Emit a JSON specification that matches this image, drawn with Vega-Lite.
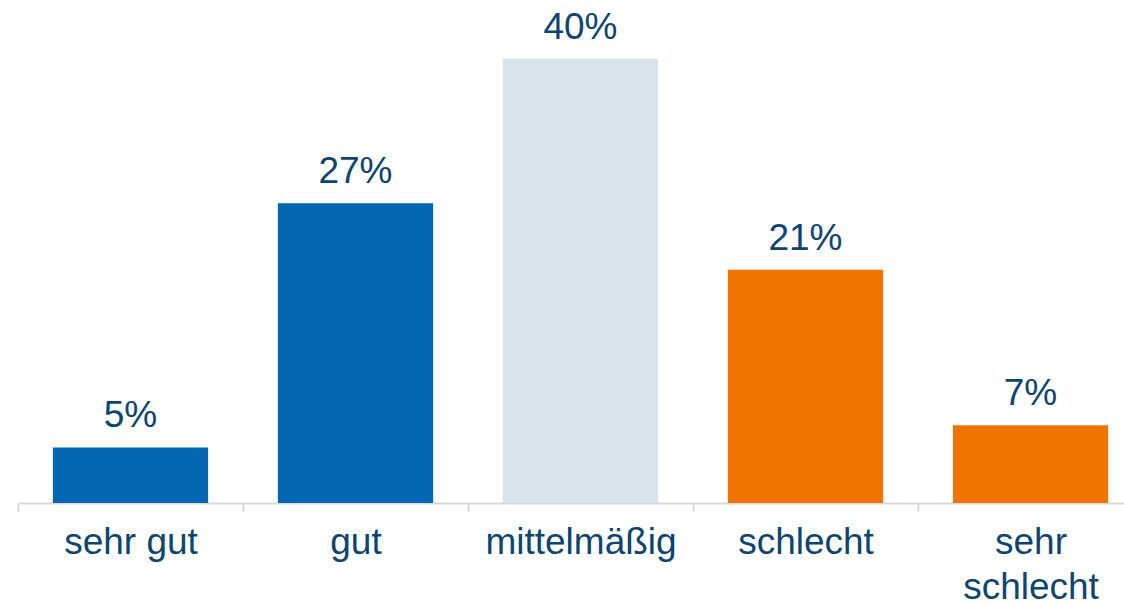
{
  "$schema": "https://vega.github.io/schema/vega-lite/v6.json",
  "width": 1106,
  "height": 503,
  "autosize": "none",
  "padding": {"left": 18, "top": 0, "right": 0, "bottom": 101},
  "background": "white",
  "config": {"view": {"stroke": null}, "font": "Liberation Sans"},
  "data": {"values": [
    {"kat": "sehr gut", "wert": 0.05, "gruppe": "positiv"},
    {"kat": "gut", "wert": 0.27, "gruppe": "positiv"},
    {"kat": "mittelmäßig", "wert": 0.40, "gruppe": "neutral"},
    {"kat": "schlecht", "wert": 0.21, "gruppe": "negativ"},
    {"kat": "sehr schlecht", "wert": 0.07, "gruppe": "negativ"}
  ]},
  "encoding": {
    "x": {
      "field": "kat", "type": "nominal", "sort": null, "title": null,
      "scale": {"range": [0, 1125], "paddingInner": 0.31, "paddingOuter": 0.155},
      "axis": {
        "domainColor": "#d9d9d9", "domainWidth": 2,
        "tickColor": "#d9d9d9", "tickWidth": 2, "tickSize": 8, "tickOffset": -112.5,
        "labelOffset": 112.5,
        "labelAngle": 0, "labelFontSize": 37, "labelColor": "#0e4470",
        "labelBaseline": "alphabetic", "labelPadding": 42, "labelLineHeight": 45,
        "labelFont": "Liberation Sans", "labelLimit": 0, "labelOverlap": false,
        "labelExpr": "datum.label == 'sehr schlecht' ? ['sehr', 'schlecht'] : datum.label"
      }
    },
    "y": {
      "field": "wert", "type": "quantitative", "axis": null,
      "scale": {"domain": [0, 0.453], "nice": false, "zero": true}
    }
  },
  "layer": [
    {
      "mark": {"type": "bar"},
      "encoding": {
        "color": {
          "field": "gruppe", "type": "nominal", "legend": null,
          "scale": {"domain": ["positiv", "neutral", "negativ"], "range": ["#0066b1", "#d9e3ec", "#ef7500"]}
        }
      }
    },
    {
      "mark": {"type": "text", "baseline": "alphabetic", "dy": -20, "fontSize": 37, "color": "#0e4470", "font": "Liberation Sans"},
      "encoding": {
        "text": {"field": "wert", "type": "quantitative", "format": ".0%"}
      }
    }
  ]
}
